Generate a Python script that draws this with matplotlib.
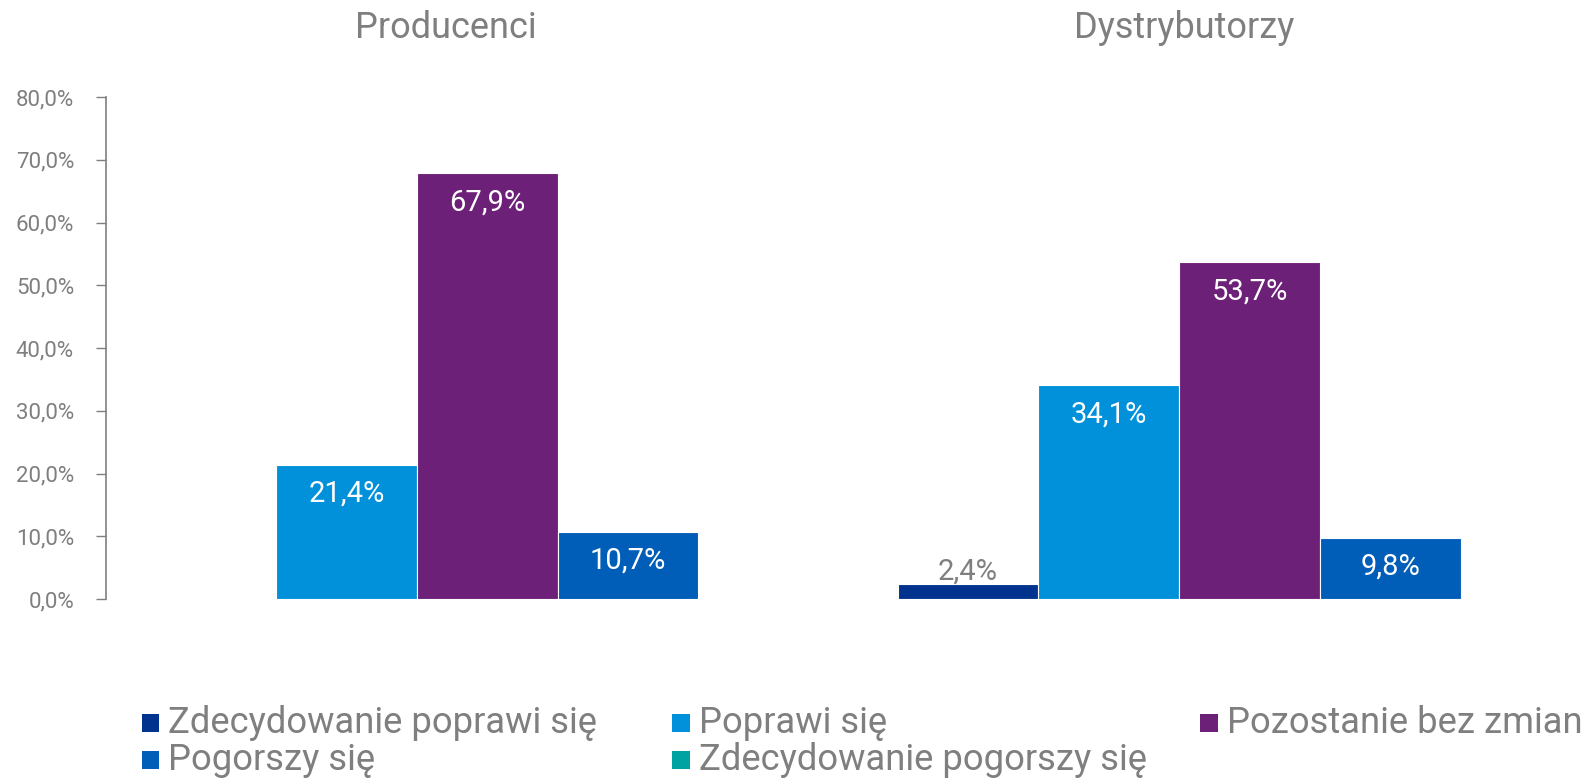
import matplotlib
matplotlib.use("Agg")
import matplotlib.pyplot as plt
import numpy as np
from matplotlib.ticker import FuncFormatter, MultipleLocator
from matplotlib.patches import Rectangle

plt.rcParams['font.family'] = ['Roboto', 'DejaVu Sans']

groups = ["Producenci", "Dystrybutorzy"]
series = ["Zdecydowanie poprawi się", "Poprawi się", "Pozostanie bez zmian",
          "Pogorszy się", "Zdecydowanie pogorszy się"]
zdecydowanie_poprawi = [0.0, 2.4]
poprawi = [21.4, 34.1]
bez_zmian = [67.9, 53.7]
pogorszy = [10.7, 9.8]
zdecydowanie_pogorszy = [0.0, 0.0]
values = [zdecydowanie_poprawi, poprawi, bez_zmian, pogorszy, zdecydowanie_pogorszy]
colors = ["#00338D", "#0091DA", "#6D2077", "#005EB8", "#00A3A1"]
label_inside = [False, True, True, True, True]

GRAY = "#7F7F7F"
W, H = 1585, 778
fig = plt.figure(figsize=(W / 100, H / 100), dpi=100)
ax = fig.add_axes([106 / W, 1 - 599 / H, 1 - 106 / W, (599 - 97) / H])

x = np.arange(len(groups))
bw = 0.1846
for i, (s, vals, c) in enumerate(zip(series, values, colors)):
    pos = x + (i - 2) * bw
    bars = ax.bar(pos, vals, width=bw, color=c, edgecolor="white", linewidth=0.8, label=s)
    for b, v in zip(bars, vals):
        if v <= 0:
            continue
        txt = f"{v:.1f}%".replace(".", ",")
        cx = b.get_x() + b.get_width() / 2
        if label_inside[i]:
            ax.annotate(txt, (cx, v), xytext=(0, -21), textcoords="offset points",
                        ha="center", va="center", color="white", fontsize=21)
        else:
            ax.annotate(txt, (cx, v), xytext=(0, -1), textcoords="offset points",
                        ha="center", va="bottom", color=GRAY, fontsize=21)

ax.set_xlim(-0.5, 1.44)
ax.set_ylim(0, 80)
ax.yaxis.set_major_locator(MultipleLocator(10))
ax.yaxis.set_major_formatter(FuncFormatter(lambda v, p: f"{v:.1f}%".replace(".", ",")))
ax.tick_params(axis="y", colors=GRAY, labelsize=16, length=7, width=1, pad=16)
ax.set_xticks([])
for sp in ["top", "right", "bottom"]:
    ax.spines[sp].set_visible(False)
ax.spines["left"].set_color(GRAY)
ax.spines["left"].set_linewidth(1.2)

fig.text(445.5 / W, 1 - 28 / H, groups[0], ha="center", va="center", color=GRAY, fontsize=26)
fig.text(1184 / W, 1 - 28 / H, groups[1], ha="center", va="center", color=GRAY, fontsize=26)

# legend laid out in rows
leg_pos = [(141.5, 723), (672, 723), (1200, 723), (141.5, 760), (672, 760)]
sq = 17.5
for (px, py), s, c in zip(leg_pos, series, colors):
    fig.patches.append(Rectangle((px / W, 1 - (py + sq / 2) / H), sq / W, sq / H,
                                 transform=fig.transFigure, facecolor=c, edgecolor="none"))
    fig.text((px + 27) / W, 1 - py / H, s, ha="left", va="center", color=GRAY, fontsize=26.2)

fig.savefig("out.png", dpi=100)
